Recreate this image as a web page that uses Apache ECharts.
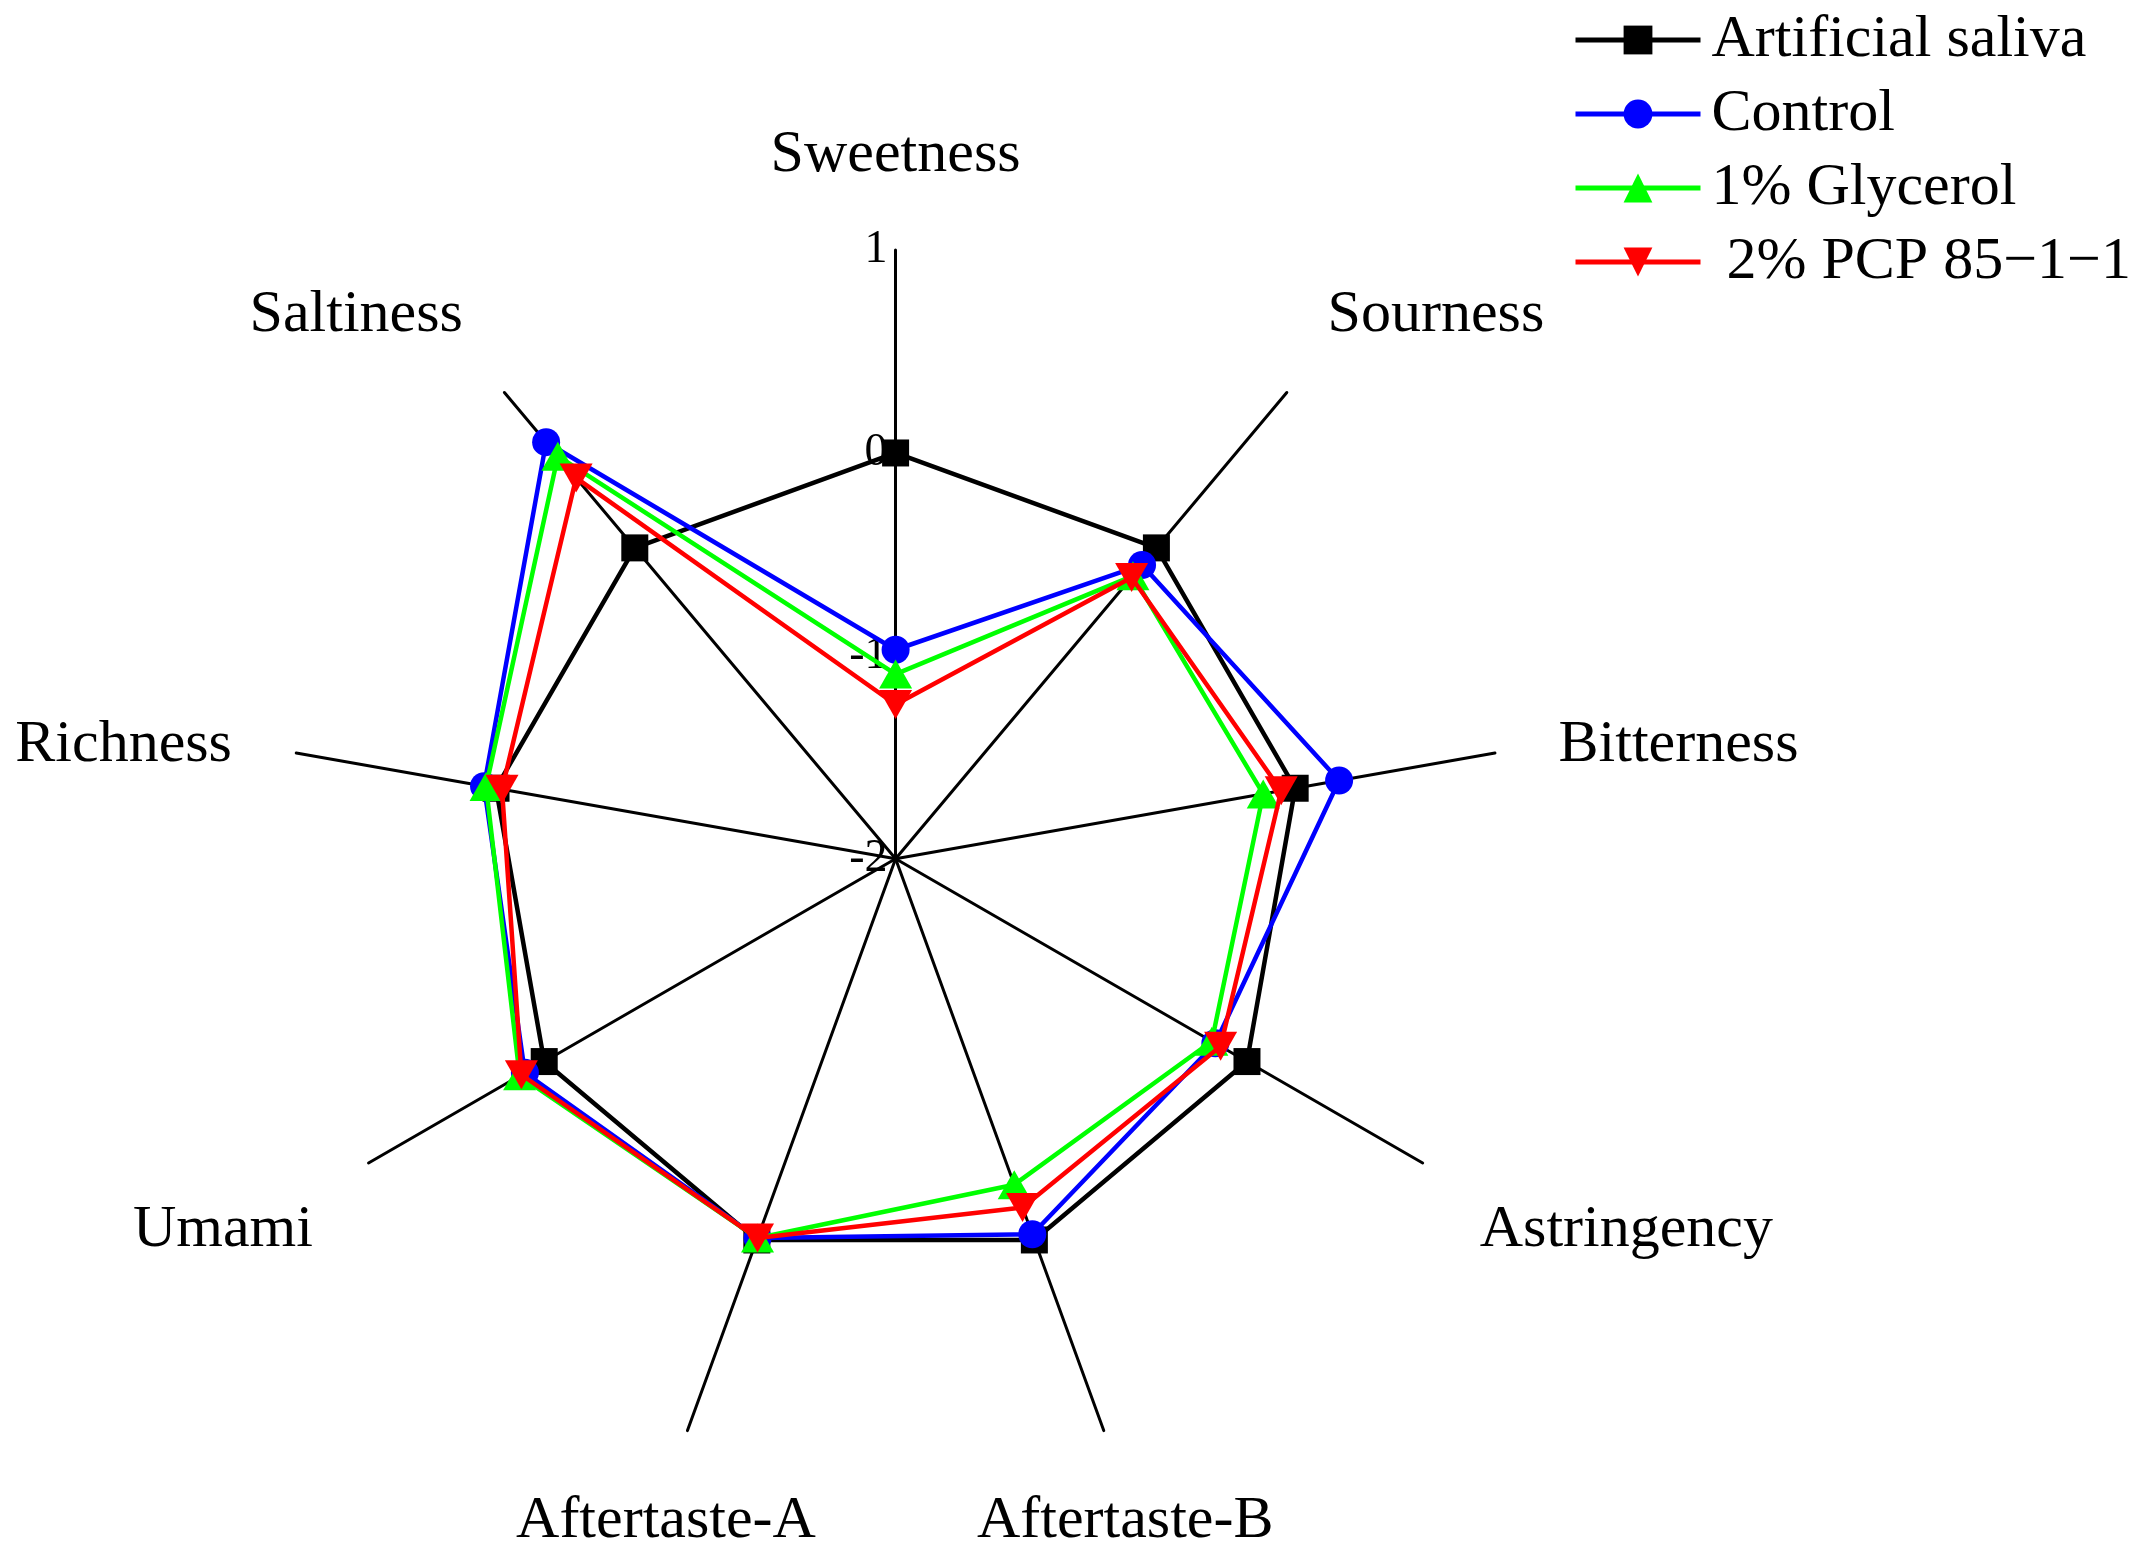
<!DOCTYPE html>
<html><head><meta charset="utf-8">
<script src="https://cdn.jsdelivr.net/npm/echarts@6/dist/echarts.min.js"></script>
<style>html,body{margin:0;padding:0;background:#fff}#c{width:2144px;height:1563px}</style>
</head><body><div id="c"></div>
<script>
// ---- data (clockwise from top) ----
const indicators = ['Sweetness','Sourness','Bitterness','Astringency','Aftertaste-B','Aftertaste-A','Umami','Richness','Saltiness'];
const seriesNames = ['Artificial saliva','Control','1% Glycerol',' 2% PCP 85\u22121\u22121'];
const artificialSaliva = [0, 0, 0, 0, 0, 0, 0, 0, 0];
const control  = [-0.97, -0.11, 0.22, -0.18, -0.03, -0.01, 0.11, 0.06, 0.68];
const glycerol = [-1.09, -0.18, -0.16, -0.20, -0.29, -0.01, 0.14, 0.05, 0.59];
const pcp      = [-1.24, -0.19, -0.07, -0.15, -0.17, -0.01, 0.13, -0.03, 0.45];
const axisMin = -2, axisMax = 1, axisInterval = 1;

// ---- layout / style ----
const CX = 895.6, CY = 858.7, R = 608.6;
const FONT = 'Liberation Serif';
const colors = ['#000000', '#0000ff', '#00ff00', '#ff0000'];
const downTri = 'path://M0,0 L20,0 L10,17.5 Z';
const symbols = ['rect', 'circle', 'triangle', downTri];
const symbolSizes = [27, 28, [33, 29], [33, 29]];
const nameOffsets = [[0,-3],[90,-7],[93,8],[124,21],[-10,4],[10,4],[-66,21],[-82,8],[-89,-7]];

// ECharts radar runs counter-clockwise: reorder so indicators appear clockwise
const order = [0, 8, 7, 6, 5, 4, 3, 2, 1];
const reorder = arr => order.map(i => arr[i]);
const allValues = [artificialSaliva, control, glycerol, pcp];

const rich = {};
indicators.forEach((n, i) => {
  const [dx, dy] = nameOffsets[i];
  rich['n' + i] = {
    fontSize: 60, fontFamily: FONT, color: '#000',
    padding: [2*Math.max(dy,0), 2*Math.max(-dx,0), 2*Math.max(-dy,0), 2*Math.max(dx,0)]
  };
});

const legendSeries = seriesNames.map((name, k) => ({
  type: 'line', name, xAxisIndex: 0, yAxisIndex: 0, data: [],
  symbol: symbols[k], color: colors[k],
  lineStyle: {color: colors[k], width: 5}, itemStyle: {color: colors[k]}
}));

const radarSeries = seriesNames.map((name, k) => ({
  type: 'radar', name, z: 3 + k,
  symbol: symbols[k], symbolSize: symbolSizes[k],
  lineStyle: {color: colors[k], width: 4.5},
  itemStyle: {color: colors[k], opacity: 1},
  data: [{value: reorder(allValues[k]), name}]
}));

const chart = echarts.init(document.getElementById('c'), null, {renderer: 'canvas'});
chart.setOption({
  backgroundColor: '#ffffff',
  animation: false,
  legend: {
    orient: 'vertical', left: 1573, top: 10, padding: 0,
    itemWidth: 125, itemHeight: 36, itemGap: 14,
    data: seriesNames,
    lineStyle: {width: 5},
    textStyle: {fontSize: 60, lineHeight: 60, fontFamily: FONT, color: '#000', padding: [0, 0, 0, 6]}
  },
  grid: {left: CX, top: CY - R, height: R, width: 10},
  xAxis: {type: 'value', show: false},
  yAxis: {
    type: 'value', min: axisMin, max: axisMax, interval: axisInterval,
    axisLine: {show: false}, axisTick: {show: false}, splitLine: {show: false},
    axisLabel: {fontSize: 46, fontFamily: FONT, color: '#000', margin: 8}
  },
  radar: {
    center: [CX, CY], radius: R, startAngle: 90, splitNumber: 3,
    indicator: reorder(indicators).map(n => ({name: n, min: axisMin, max: axisMax})),
    nameGap: 92,
    axisName: {
      color: '#000', fontSize: 60, fontFamily: FONT, align: 'center', verticalAlign: 'middle',
      formatter: (name) => '{n' + indicators.indexOf(name) + '|' + name + '}',
      rich
    },
    axisLine: {lineStyle: {color: '#000', width: 3}},
    axisTick: {show: false}, axisLabel: {show: false},
    splitLine: {show: false}, splitArea: {show: false}
  },
  series: legendSeries.concat(radarSeries)
});
</script></body></html>
